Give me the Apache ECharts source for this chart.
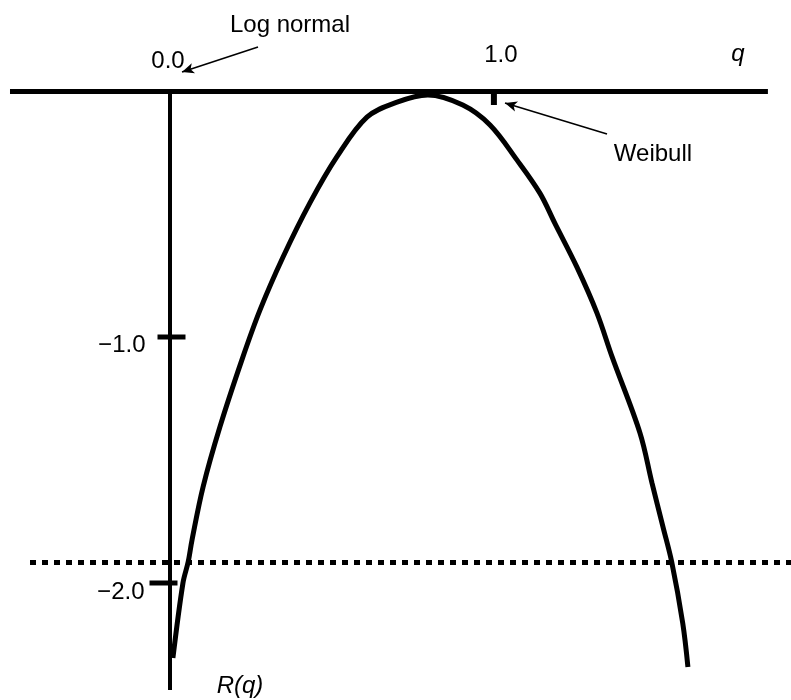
<!DOCTYPE html>
<html>
<head>
<meta charset="utf-8">
<script src="https://cdn.jsdelivr.net/npm/echarts@6/dist/echarts.min.js"></script>
<style>
html,body{margin:0;padding:0;background:#fff;}
#main{width:791px;height:700px;}
</style>
</head>
<body>
<div id="main"></div>
<script>
// ---- data ----
const qValues = [0.009, 0.040, 0.056, 0.068, 0.102, 0.154, 0.222, 0.278, 0.349, 0.432, 0.515, 0.608, 0.701, 0.796, 0.904, 0.988, 1.071, 1.142, 1.188, 1.256, 1.318, 1.365, 1.451, 1.488, 1.522, 1.549, 1.583, 1.599];
const rValues = [-2.305, -2.000, -1.915, -1.825, -1.610, -1.366, -1.093, -0.890, -0.675, -0.455, -0.268, -0.106, -0.045, -0.016, -0.057, -0.138, -0.280, -0.415, -0.537, -0.715, -0.902, -1.081, -1.390, -1.593, -1.772, -1.915, -2.163, -2.341];
const xTicks = [0, 1];
const xTickLabels = ['0.0', '1.0'];
const yTicks = [-1, -2];
const yTickLabels = ['\u22121.0', '\u22122.0'];
const thresholdR = -1.915;
const xAxisRange = [-0.494, 1.846];
const yAxisRange = [0, -2.435];

// ---- view ----
const FONT = 'Liberation Sans';
const sx = 323.9, sy = 246;       // px per unit
const ox = 170, oy = 91;          // pixel position of (0,0)
const xMin = -ox / sx, xMax = (791 - ox) / sx;
const yMax = oy / sy, yMin = -(700 - oy) / sy;
const px2d = (px, py) => [(px - ox) / sx, (oy - py) / sy];

const chart = echarts.init(document.getElementById('main'), null, {renderer: 'canvas'});

const textStyle = {color: '#000', fontFamily: FONT, fontSize: 24, opacity: 1};

const option = {
  animation: false,
  backgroundColor: '#fff',
  grid: {left: 0, right: 0, top: 0, bottom: 0},
  xAxis: {type: 'value', min: xMin, max: xMax, show: false},
  yAxis: {type: 'value', min: yMin, max: yMax, show: false},
  series: [
    {
      name: 'R(q)',
      type: 'line',
      data: qValues.map((q, i) => [q, rValues[i]]),
      smooth: 0.35,
      showSymbol: false,
      clip: false,
      lineStyle: {color: '#000', width: 5, cap: 'butt'},
      z: 5,
      markLine: {
        silent: true,
        symbol: ['none', 'none'],
        label: {show: false},
        animation: false,
        data: [
          [{coord: [xAxisRange[0], 0], lineStyle: {color: '#000', width: 5, type: 'solid'}}, {coord: [xAxisRange[1], 0]}],
          [{coord: [0, yAxisRange[0]], lineStyle: {color: '#000', width: 4, type: 'solid'}}, {coord: [0, yAxisRange[1]]}],
          [{coord: [px2d(30, 0)[0], thresholdR], lineStyle: {color: '#000', width: 5, type: [6, 6]}}, {coord: [xMax, thresholdR]}],
          [{coord: px2d(258, 47), symbol: 'none', lineStyle: {color: '#000', width: 1.6, type: 'solid'}},
           {coord: px2d(182, 72), symbol: 'arrow', symbolSize: [8, 12]}],
          [{coord: px2d(607, 134), symbol: 'none', lineStyle: {color: '#000', width: 1.6, type: 'solid'}},
           {coord: px2d(505, 103), symbol: 'arrow', symbolSize: [8, 12]}]
        ]
      }
    },
    {
      type: 'scatter',
      data: yTicks.map((v, i) => ({
        value: [0, v],
        label: {
          show: true, formatter: yTickLabels[i], position: 'left',
          distance: i === 0 ? 12 : 5, offset: [0, i === 0 ? 8 : 9], ...textStyle
        },
        symbolOffset: i === 0 ? [1.5, 0] : [-6.5, 0]
      })),
      symbol: 'rect',
      symbolSize: [28, 5],
      itemStyle: {color: '#000', opacity: 1},
      silent: true,
      z: 6
    },
    {
      type: 'scatter',
      data: xTicks.map((v, i) => ({
        value: [v, 0],
        label: {
          show: true, formatter: xTickLabels[i], position: 'inside',
          offset: i === 0 ? [-2, -37] : [7, -43], ...textStyle
        },
        symbolSize: i === 0 ? 0 : [6, 14]
      })),
      symbol: 'rect',
      symbolOffset: [0, 7],
      itemStyle: {color: '#000', opacity: 1},
      silent: true,
      z: 6
    },
    {
      type: 'scatter',
      symbolSize: 0,
      silent: true,
      itemStyle: {opacity: 1},
      data: [
        {value: px2d(290, 25), label: {show: true, formatter: 'Log normal', position: 'inside', ...textStyle}},
        {value: px2d(653, 154), label: {show: true, formatter: 'Weibull', position: 'inside', ...textStyle}},
        {value: px2d(738, 54), label: {show: true, formatter: 'q', position: 'inside', ...textStyle, fontStyle: 'italic'}},
        {value: px2d(240, 686), label: {show: true, formatter: 'R(q)', position: 'inside', ...textStyle, fontStyle: 'italic'}}
      ],
      z: 7
    }
  ]
};
chart.setOption(option);
</script>
</body>
</html>
